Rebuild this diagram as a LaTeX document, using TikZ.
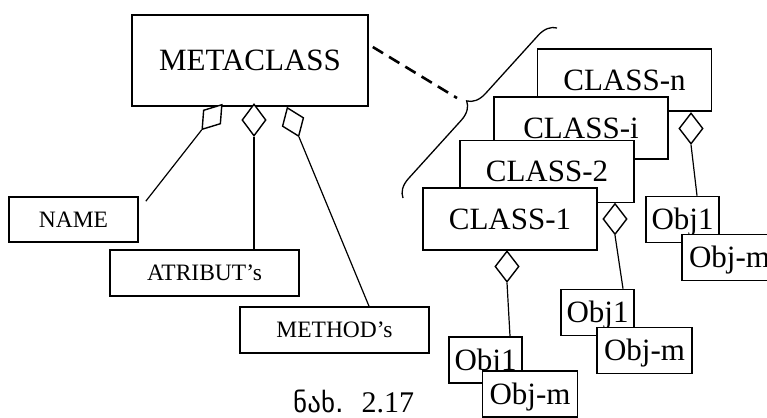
\documentclass[tikz,border=0pt]{standalone}
\usepackage{fontspec}
\setmainfont{Liberation Serif}
\newfontfamily\geofont{DejaVu Sans}
\usetikzlibrary{shapes.geometric,decorations.pathreplacing,calc}
\tikzstyle{bigbox}=[rectangle,draw,fill=white,line width=1.6pt,inner sep=0,text height=20.5pt,text depth=0pt,font=\fontsize{31}{36}\selectfont]
\tikzstyle{smallbox}=[rectangle,draw,fill=white,line width=1.6pt,inner sep=0,text height=15.5pt,text depth=0pt,font=\fontsize{23.5}{28}\selectfont]
\tikzstyle{agg}=[shape=diamond,draw,fill=white,line width=1.4pt,inner sep=0,minimum width=24pt,minimum height=31pt]
\tikzstyle{link}=[line width=1.2pt]
\tikzstyle{dashline}=[line width=2.6pt,dash pattern=on 12pt off 7pt]

\begin{document}
\begin{tikzpicture}[x=1pt,y=-1pt]
\useasboundingbox (0,0) rectangle (767,417);

% metaclass and its parts
\node[bigbox,minimum width=236pt,minimum height=91pt] (meta) at (250,60.5) {METACLASS};
\node[smallbox,minimum width=129pt,minimum height=45pt] (name) at (73.5,219.5) {NAME};
\node[smallbox,minimum width=189pt,minimum height=46pt] (atr) at (204.5,273) {ATRIBUT’s};
\node[smallbox,minimum width=189pt,minimum height=46pt] (meth) at (334.5,330) {METHOD’s};

\node[agg,minimum width=22pt,minimum height=32pt,rotate=-38.7] (dname) at (212,117) {};
\node[agg,minimum height=32pt] (datr) at (254,120) {};
\node[agg,minimum width=23pt,rotate=21.8] (dmeth) at (293,122) {};
\draw[link] (dname.south) -- ($(name.north east)+(7,5)$);
\draw[link] (datr.south) -- (datr.south |- atr.north);
\draw[link] (dmeth.south) -- ($(meth.north)+(34.5,0)$);

% classes
\foreach \nm/\x/\y in {n/624.5/80, i/581/128, 2/547/171.5, 1/510/219}
	\node[bigbox,minimum width=174pt,minimum height=62pt] (cls\nm) at (\x,\y) {CLASS-\nm};

\foreach \nm/\dx/\dy/\ox/\oy/\mx/\my/\sh in {n/691/128.5/682.5/219.5/729.5/257.5/14.5, 2/615/219/597.5/312.5/644.5/350.5/25.5, 1/507/266.5/485.5/360/530/394/24.5}{
	\node[agg] (d\nm) at (\dx,\dy) {};
	\node[bigbox,minimum width=73pt,minimum height=46pt] (ob\nm) at (\ox,\oy) {Obj1};
	\node[bigbox,minimum width=95pt,minimum height=46pt] (om\nm) at (\mx,\my) {Obj-m};
	\draw[link] (d\nm.south) -- ([xshift=\sh pt]ob\nm.north);
}

% brace and dashed link
\coordinate (tip) at (457,98);
\draw[dashline] ([xshift=4pt,yshift=13.5pt]meta.east) -- (tip);
\draw[line width=1.3pt,decorate,decoration={brace,amplitude=18pt}] (403,198) -- (557,28);

\node[anchor=base west,inner sep=0,font=\fontsize{30}{34}\selectfont] (cap) at (293,412) {{\geofont\fontsize{27}{30}\selectfont ნახ.}\hspace{8pt} 2.17};

\end{tikzpicture}
\end{document}
